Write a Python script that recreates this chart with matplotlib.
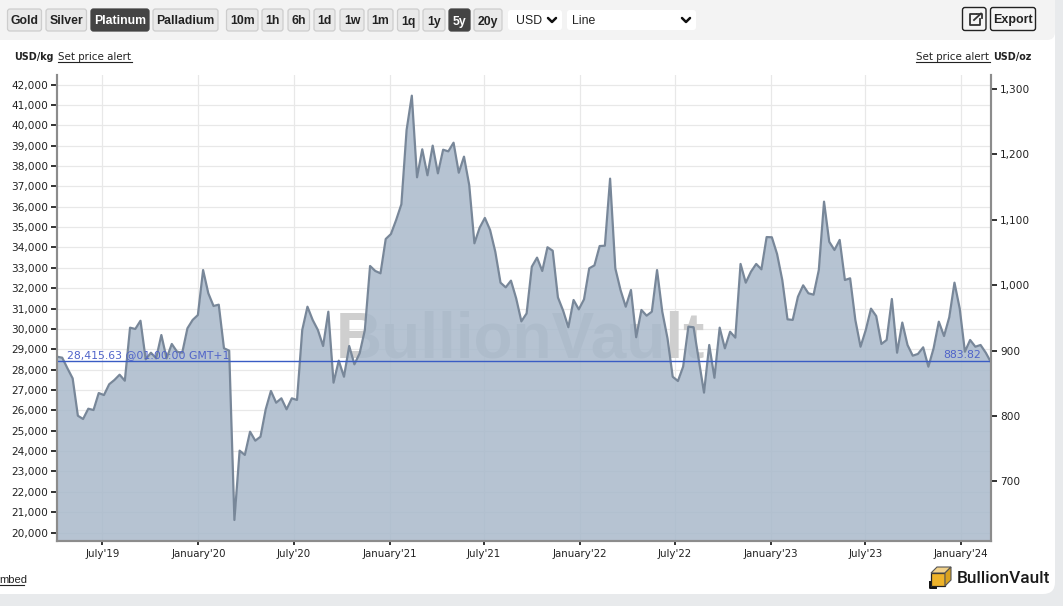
import numpy as np
import matplotlib
matplotlib.use("Agg")
import matplotlib.pyplot as plt
import matplotlib.dates as mdates
from matplotlib.patches import FancyBboxPatch, Polygon
from datetime import datetime

usd_kg = [28635,28585,28065,27570,25735,25575,26080,26015,26850,26750,27280,27490,27750,27455,
 30060,29995,30400,28505,28830,28555,29700,28555,29260,28880,28830,30030,30440,30680,32890,31750,31125,31190,
 29050,28930,20615,24020,23810,24950,24510,24705,26050,26950,26375,26590,26050,26590,26510,
 29945,31090,30440,29945,29160,30845,27360,28440,27650,29160,28260,28800,29945,33090,32845,32730,
 34415,34660,35350,36120,39770,41455,37445,38820,37545,39000,37640,38800,38720,39145,37670,38460,37070,34205,
 34970,35450,34860,33790,32270,32040,32370,31500,30370,30760,33055,33500,32845,34010,33840,31550,30895,30080,
 31420,30960,31450,32975,33120,34070,34085,37380,32975,31910,31090,31910,29590,30930,30650,30845,32890,
 30845,29540,27650,27440,28145,30110,30080,28470,26870,29210,27600,30060,29045,29860,29570,33190,32270,32810,33190,32925,
 34510,34500,33680,32400,30470,30440,31580,32140,31750,31680,32890,36250,34280,33875,34370,32400,32485,30440,
 29125,29945,30995,30630,29260,29455,31470,28830,30310,29210,28685,28770,29095,28145,29045,30355,29650,30570,
 32270,31010,28880,29455,29125,29210,28830,28360]
kg_ticks = list(range(20000, 42001, 1000))
oz_ticks = [700, 800, 900, 1000, 1100, 1200, 1300]
date_ticks = [datetime(2019,7,1), datetime(2020,1,1), datetime(2020,7,1), datetime(2021,1,1), datetime(2021,7,1),
              datetime(2022,1,1), datetime(2022,7,1), datetime(2023,1,1), datetime(2023,7,1), datetime(2024,1,1)]
date_labels = ["July'19","January'20","July'20","January'21","July'21","January'22","July'22","January'23","July'23","January'24"]
current_kg = 28415.63
current_oz = 883.82
OZ_PER_KG = 32.1507
metal_buttons = ["Gold","Silver","Platinum","Palladium"]
range_buttons = ["10m","1h","6h","1d","1w","1m","1q","1y","5y","20y"]

W, H = 1063, 606
fig = plt.figure(figsize=(W/100, H/100), dpi=100, facecolor="#e8eaec")
bg = fig.add_axes([0,0,1,1], zorder=0)
bg.set_xlim(0,W); bg.set_ylim(H,0); bg.axis("off")
UI = "Liberation Sans"

bg.add_patch(FancyBboxPatch((-30,-30),1085,624,boxstyle="round,pad=0,rounding_size=12",fc="white",ec="none"))
bg.add_patch(FancyBboxPatch((-30,-30),1085,70,boxstyle="round,pad=0,rounding_size=8",fc="#f3f3f3",ec="none"))

def button(x0,x1,label,active=False,y0=9,y1=31):
    fc = "#444444" if active else "#e9e9e9"
    ec = "#444444" if active else "#cdcdcd"
    bg.add_patch(FancyBboxPatch((x0,y0),x1-x0,y1-y0,boxstyle="round,pad=0,rounding_size=2.5",fc=fc,ec=ec,lw=0.9))
    bg.text((x0+x1)/2,(y0+y1)/2,label,ha="center",va="center_baseline",fontsize=8.8,family=UI,weight="bold",
            color="white" if active else "#222222")

metal_pos = [(7.5,41.5),(46,86.5),(91,149),(153,218)]
for (a,b),l in zip(metal_pos,metal_buttons):
    button(a,b,l,active=l=="Platinum")
range_pos = [(226.5,258),(262,283),(288,309.5),(314,335),(340,364),(368,393),(397.5,419),(423,445),(449,470),(474,502)]
for (a,b),l in zip(range_pos,range_buttons):
    button(a,b,l,active=l=="5y")

for a,b,l,tx in [(508,562,"USD",516),(567,696,"Line",572)]:
    bg.add_patch(FancyBboxPatch((a,10),b-a,20,boxstyle="round,pad=0,rounding_size=3",fc="white",ec="none"))
    bg.text(tx,20,l,ha="left",va="center_baseline",fontsize=8.8,family=UI,color="#222222")
    bg.plot([b-14,b-10,b-6],[18,22,18],color="#111111",lw=1.8,solid_capstyle="round")

for a,b in [(962.5,986),(990.5,1035.5)]:
    bg.add_patch(FancyBboxPatch((a,7.5),b-a,23,boxstyle="round,pad=0,rounding_size=2.5",fc="#f5f5f5",ec="#222222",lw=1))
bg.text(1013,19,"Export",ha="center",va="center_baseline",fontsize=9,family=UI,weight="bold",color="#222222")
bg.plot([976,970,970,980,980],[14,14,24.5,24.5,19],color="#333333",lw=1.3)
bg.plot([974,981],[20,13.5],color="#333333",lw=1.3)
bg.plot([977,981.5,981.5],[13.5,13.5,17.5],color="#333333",lw=1.3)

# header labels
bg.text(14,56,"USD/kg",ha="left",va="center_baseline",fontsize=6.9,weight="bold",color="#222222")
bg.text(58,56,"Set price alert",ha="left",va="center_baseline",fontsize=7.4,color="#222222")
bg.plot([58,132],[61.5,61.5],color="#222222",lw=0.8)
bg.text(916,56,"Set price alert",ha="left",va="center_baseline",fontsize=7.4,color="#222222")
bg.plot([916,990],[61.5,61.5],color="#222222",lw=0.8)
bg.text(993,56,"USD/oz",ha="left",va="center_baseline",fontsize=6.9,weight="bold",color="#222222")
bg.text(-1,579,"mbed",ha="left",va="center_baseline",fontsize=8,family=UI,color="#222222")
bg.plot([0,24],[585,585],color="#222222",lw=0.8)

# logo
bg.text(957,577,"BullionVault",ha="left",va="center_baseline",fontsize=12.4,family="Roboto",weight="medium",color="#1a1a1a")
bg.add_patch(Polygon([[931,573],[945,573],[945,586],[931,586]],fc="#eeb32a",ec="#222222",lw=0.9))
bg.add_patch(Polygon([[931,573],[937,567],[951,567],[945,573]],fc="#f2d28a",ec="#555555",lw=0.8))
bg.add_patch(Polygon([[945,573],[951,567],[951,580],[945,586]],fc="#d9a21f",ec="#555555",lw=0.8))
bg.plot([930,930,936],[582,587.5,587.5],color="#111111",lw=1.4)

# main axes
L,R,T,B = 57,991,75,541
ax = fig.add_axes([L/W,1-B/H,(R-L)/W,(B-T)/H],zorder=2)
ax.patch.set_alpha(0)
x0 = mdates.date2num(datetime(2019,4,5)); x1 = mdates.date2num(datetime(2024,2,27))
dates = np.linspace(x0,x1,len(usd_kg))
ax.set_xlim(x0,x1)
ylo, yhi = 19583, 42470
ax.set_ylim(ylo,yhi)
ax.set_yticks(kg_ticks)
ax.set_yticklabels([f"{v:,}" for v in kg_ticks])
ax.set_xticks([mdates.date2num(d) for d in date_ticks])
ax.set_xticklabels(date_labels)
ax.grid(True,color="#e8e8e8",lw=0.9,zorder=0)
ax.set_axisbelow(True)
ax.tick_params(axis="y",length=4,width=1.3,color="#222222",labelsize=7.6,labelcolor="#222222",pad=2.5)
ax.tick_params(axis="x",length=3,width=1.3,color="#222222",labelsize=7.4,labelcolor="#222222",pad=3)
ax.spines["top"].set_visible(False)
for s in ["left","bottom","right"]:
    ax.spines[s].set_color("#8c8c8c"); ax.spines[s].set_linewidth(1.5)

ax.text(0.496,0.43,"BullionVault",transform=ax.transAxes,ha="center",va="center",fontsize=46,family="Liberation Sans",
        weight="bold",color="#cfcfcf",zorder=1,clip_on=True)
ax.fill_between(dates,usd_kg,ylo,color="#a9b9cb",alpha=0.85,lw=0,zorder=2)
ax.plot(dates,usd_kg,color="#788799",lw=1.6,zorder=3,solid_joinstyle="round")
ax.axhline(current_kg,color="#3a5cc4",lw=1,zorder=4)
ax.text(mdates.date2num(datetime(2019,4,24)),current_kg+40,f"{current_kg:,.2f} @01:00:00 GMT+1",ha="left",va="bottom",
        fontsize=7.8,color="#4f63c9",zorder=5)
ax.text(x1-19,current_kg+40,f"{current_oz:.2f}",ha="right",va="bottom",fontsize=7.8,color="#4f63c9",zorder=5)

rax = ax.twinx()
rax.set_ylim(ylo/OZ_PER_KG,yhi/OZ_PER_KG)
rax.set_yticks(oz_ticks)
rax.set_yticklabels([f"{v:,}" for v in oz_ticks])
rax.tick_params(axis="y",length=4,width=1.3,color="#222222",labelsize=7.6,labelcolor="#222222",pad=2.5)
rax.spines["top"].set_visible(False)
for s in ["left","bottom","right"]:
    rax.spines[s].set_color("#8c8c8c"); rax.spines[s].set_linewidth(1.5)

fig.savefig("out.png",dpi=100,facecolor=fig.get_facecolor())
